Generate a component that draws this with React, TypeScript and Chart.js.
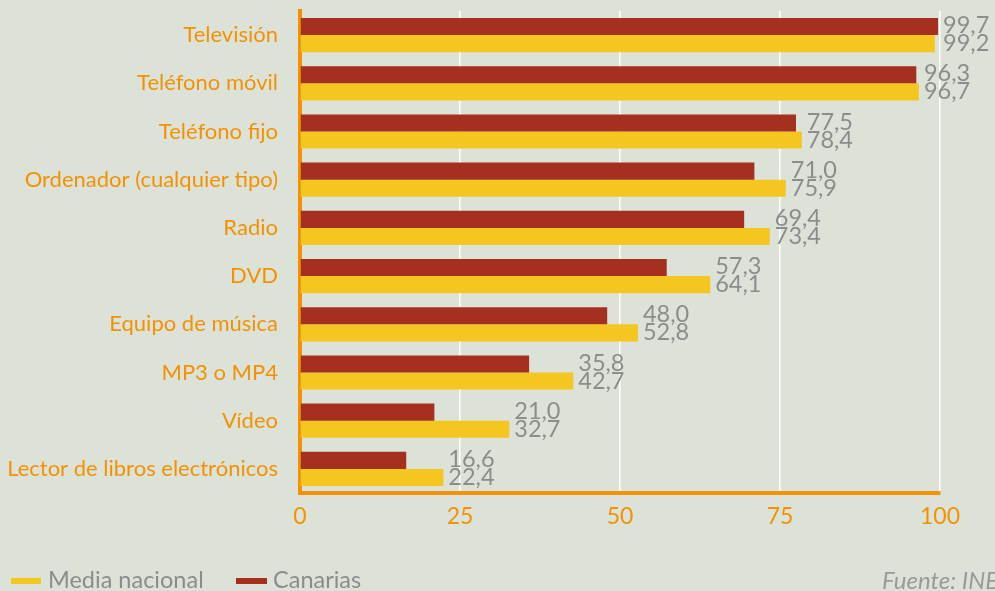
import React, { useEffect, useRef } from "react";
import { Chart, registerables } from "chart.js";

Chart.register(...registerables);

const categories = [
  "Televisión",
  "Teléfono móvil",
  "Teléfono fijo",
  "Ordenador (cualquier tipo)",
  "Radio",
  "DVD",
  "Equipo de música",
  "MP3 o MP4",
  "Vídeo",
  "Lector de libros electrónicos",
];
const canarias = [99.7, 96.3, 77.5, 71.0, 69.4, 57.3, 48.0, 35.8, 21.0, 16.6];
const mediaNacional = [99.2, 96.7, 78.4, 75.9, 73.4, 64.1, 52.8, 42.7, 32.7, 22.4];
const xTicks = [0, 25, 50, 75, 100];
const legendLabels = ["Media nacional", "Canarias"];
const sourceText = "Fuente: INE";

const RED = "#a5301f";
const YELLOW = "#f5c520";
const ORANGE = "#f39200";
const GREY = "#8c8c8c";
const BG = "#dde2d9";
const FONT = "Lato, 'Open Sans', sans-serif";

const fmt = (v: number) => v.toFixed(1).replace(".", ",");

const labelsPlugin = {
  id: "valueLabels",
  afterDatasetsDraw(chart: any) {
    const ctx = chart.ctx;
    const x = chart.scales.x;
    const m0 = chart.getDatasetMeta(0);
    const m1 = chart.getDatasetMeta(1);
    ctx.save();
    ctx.font = `23.5px ${FONT}`;
    ctx.fillStyle = GREY;
    ctx.textAlign = "left";
    ctx.textBaseline = "middle";
    categories.forEach((_, i) => {
      const mx = Math.max(canarias[i], mediaNacional[i]);
      const px = x.getPixelForValue(mx) + 5;
      ctx.fillText(fmt(canarias[i]), px, m0.data[i].y - 1);
      ctx.fillText(fmt(mediaNacional[i]), px, m1.data[i].y);
    });
    ctx.restore();
  },
  afterDraw(chart: any) {
    const ctx = chart.ctx;
    ctx.save();
    ctx.textBaseline = "middle";
    ctx.textAlign = "left";
    ctx.font = `23.5px ${FONT}`;
    // legend
    ctx.fillStyle = YELLOW;
    ctx.fillRect(11, 578, 30, 6);
    ctx.fillStyle = GREY;
    ctx.fillText(legendLabels[0], 48, 580);
    ctx.fillStyle = RED;
    ctx.fillRect(236, 578, 31, 6);
    ctx.fillStyle = GREY;
    ctx.fillText(legendLabels[1], 273, 580);
    // source
    ctx.font = `italic 24px ${FONT}`;
    ctx.fillStyle = "#9a9a9a";
    ctx.fillText(sourceText, 882, 581);
    ctx.restore();
  },
};

export default function App() {
  const ref = useRef<HTMLCanvasElement | null>(null);
  useEffect(() => {
    document.body.style.margin = "0";
    document.body.style.background = BG;
    const chart = new Chart(ref.current as HTMLCanvasElement, {
      type: "bar",
      data: {
        labels: categories,
        datasets: [
          { label: "Canarias", data: canarias, backgroundColor: RED, barPercentage: 1, categoryPercentage: 0.71 },
          { label: "Media nacional", data: mediaNacional, backgroundColor: YELLOW, barPercentage: 1, categoryPercentage: 0.71 },
        ],
      },
      options: {
        indexAxis: "y",
        animation: false,
        responsive: false,
        maintainAspectRatio: false,
        layout: { padding: { top: 11, right: 55, bottom: 58, left: 0 } },
        plugins: { legend: { display: false }, tooltip: { enabled: false } },
        scales: {
          x: {
            min: 0,
            max: 100,
            afterBuildTicks: (s: any) => {
              s.ticks = xTicks.map((v) => ({ value: v }));
            },
            afterFit: (s: any) => {
              s.height = 40;
              s.paddingLeft = 0;
              s.paddingRight = 0;
            },
            grid: { color: "#ffffff", lineWidth: 1.5, drawTicks: false },
            border: { color: ORANGE, width: 4 },
            ticks: { color: ORANGE, font: { family: FONT, size: 23 }, padding: 10 },
          },
          y: {
            afterFit: (s: any) => {
              s.width = 300;
              s.paddingTop = 0;
              s.paddingBottom = 0;
            },
            grid: { display: false, drawTicks: false },
            border: { color: ORANGE, width: 4 },
            ticks: { color: ORANGE, font: { family: FONT, size: 22 }, padding: 22 },
          },
        },
      },
      plugins: [labelsPlugin],
    } as any);
    return () => chart.destroy();
  }, []);
  return (
    <div style={{ width: 995, height: 591, background: BG }}>
      <canvas ref={ref} width={995} height={591} style={{ display: "block" }} />
    </div>
  );
}
